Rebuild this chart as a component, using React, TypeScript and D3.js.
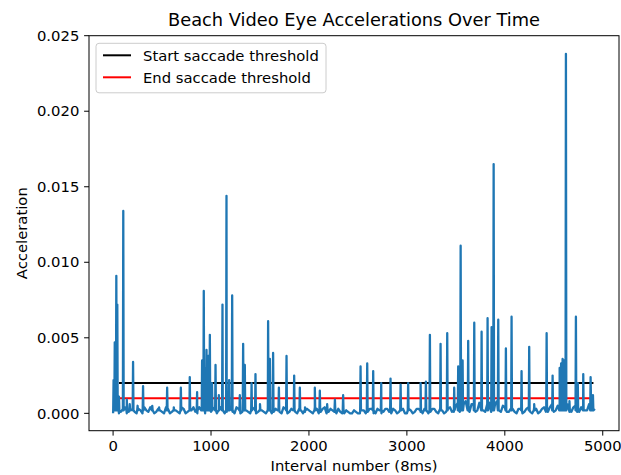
import React from "react";
import { scaleLinear, line } from "d3";

// baseline noise, sampled every 40 intervals (acceleration values)
const baselineStep = 40;
const baseline = [
  0, 0.0003, 0.0001, 0.0004, 0.0001, 0.0003, 0, 0.0002, 0.0004, 0.0001,
  0.0003, 0.0001, 0.0002, 0, 0.0003, 0.0001, 0.0002, 0, 0.0003, 0.0001,
  0.0002, 0.0001, 0.0004, 0.0002, 0.0005, 0.0001, 0.0004, 0.0002, 0.0003, 0.0001,
  0.0004, 0, 0.0003, 0.0001, 0.0002, 0, 0.0003, 0.0001, 0.0002, 0,
  0.0003, 0.0001, 0.0002, 0, 0.0003, 0.0001, 0.0002, 0, 0.0002, 0.0001,
  0.0002, 0, 0.0003, 0.0001, 0.0004, 0.0001, 0.0002, 0, 0.0001, 0,
  0.0001, 0, 0.0001, 0, 0.0002, 0.0001, 0.0003, 0, 0.0002, 0.0001,
  0.0003, 0, 0.0002, 0.0001, 0.0003, 0, 0.0002, 0.0001, 0.0003, 0,
  0.0002, 0.0001, 0.0003, 0, 0.0002, 0.0001, 0.0004, 0.0001, 0.0007, 0.0002,
  0.0008, 0.0001, 0.0006, 0.0002, 0.0009, 0.0001, 0.0007, 0.0002, 0.0008, 0.0001,
  0.0004, 0.0001, 0.0003, 0, 0.0003, 0.0001, 0.0004, 0, 0.0003, 0.0001,
  0.0004, 0.0001, 0.0006, 0.0002, 0.0007, 0.0003, 0.0006, 0.0001, 0.0005, 0.0001,
  0.0006, 0.0002, 0.0009, 0.0003,
];
// noise halfway between the baseline samples (interval 20, 60, 100, ...)
const baselineMid = [
  0.0002, 0, 0.0003, 0, 0.0002, 0.0001, 0.0003, 0, 0.0002, 0.0004,
  0, 0.0003, 0.0001, 0.0004, 0, 0.0003, 0.0001, 0.0004, 0, 0.0002,
  0.0004, 0, 0.0002, 0, 0.0002, 0.0003, 0, 0.0004, 0, 0.0003,
  0.0001, 0.0004, 0, 0.0003, 0.0001, 0.0004, 0, 0.0003, 0.0001, 0.0004,
  0, 0.0003, 0.0001, 0.0004, 0, 0.0003, 0.0001, 0.0003, 0, 0.0003,
  0.0001, 0.0004, 0, 0.0003, 0, 0.0003, 0.0001, 0.0003, 0, 0.0002,
  0, 0.0002, 0, 0.0002, 0, 0.0003, 0, 0.0003, 0, 0.0003,
  0.0001, 0.0003, 0, 0.0003, 0, 0.0003, 0, 0.0003, 0.0001, 0.0003,
  0, 0.0003, 0.0001, 0.0003, 0, 0.0003, 0.0001, 0.0005, 0.0001, 0.0006,
  0.0002, 0.0006, 0.0001, 0.0007, 0.0002, 0.0006, 0.0001, 0.0006, 0.0002, 0.0005,
  0.0001, 0.0003, 0.0001, 0.0003, 0, 0.0003, 0.0001, 0.0004, 0, 0.0003,
  0.0001, 0.0004, 0.0001, 0.0005, 0.0002, 0.0005, 0.0001, 0.0004, 0.0001, 0.0004,
  0.0002, 0.0006, 0.0002,
];

// saccade peaks: [interval index, acceleration]
const spikes: [number, number][] = [
  [5, 0.0022], [17, 0.0047], [33, 0.0091], [43, 0.0072], [60, 0.0011],
  [104, 0.0134], [140, 0.0009], [170, 0.0006], [204, 0.0034], [250, 0.0005],
  [306, 0.0018], [400, 0.0005], [470, 0.0004], [552, 0.0017], [620, 0.0004],
  [692, 0.0017], [783, 0.0024], [858, 0.0014], [909, 0.0035], [926, 0.0081],
  [940, 0.003], [954, 0.0042], [972, 0.0038], [988, 0.0052], [1010, 0.002],
  [1046, 0.0032], [1080, 0.0012], [1117, 0.0072], [1158, 0.0144], [1185, 0.0022],
  [1216, 0.0078], [1294, 0.0012], [1328, 0.0046], [1345, 0.0032], [1414, 0.002],
  [1454, 0.0026], [1500, 0.0006], [1583, 0.0061], [1601, 0.0036], [1634, 0.004],
  [1693, 0.0017], [1771, 0.0038], [1849, 0.0025], [1907, 0.0017], [1960, 0.0004],
  [2060, 0.0017], [2111, 0.0015], [2186, 0.0006], [2265, 0.0009], [2349, 0.0012],
  [2527, 0.0031], [2595, 0.0033], [2656, 0.0028], [2738, 0.002], [2833, 0.0023],
  [2936, 0.0019], [3013, 0.002], [3140, 0.002], [3194, 0.0021], [3235, 0.0052],
  [3344, 0.0046], [3412, 0.0053], [3483, 0.0017], [3524, 0.0031], [3549, 0.0111],
  [3569, 0.0035], [3626, 0.0048], [3688, 0.006], [3763, 0.0054], [3824, 0.0063],
  [3865, 0.0057], [3886, 0.0165], [3933, 0.0062], [4011, 0.0043], [4069, 0.0064],
  [4171, 0.0028], [4249, 0.0044], [4300, 0.0006], [4427, 0.0053], [4488, 0.0025],
  [4560, 0.003], [4575, 0.0033], [4590, 0.0036], [4605, 0.0035], [4624, 0.0238],
  [4660, 0.0008], [4726, 0.0064], [4745, 0.002], [4801, 0.0026], [4876, 0.0024],
  [4900, 0.0012],
];
const spikeFoot = 0.0002;

const startThreshold = 0.002;
const endThreshold = 0.001;
const thresholdRange = [60, 4905];

const xTicks = [0, 1000, 2000, 3000, 4000, 5000];
const yTicks = [0, 0.005, 0.01, 0.015, 0.02, 0.025];

const W = 621;
const H = 475;
const left = 89;
const right = 619;
const top = 35.7;
const bottom = 430.7;
const font = "DejaVu Sans, sans-serif";
const fs = 14.8;

export default function App() {
  const points: [number, number][] = [];
  baseline.forEach((v, i) => points.push([i * baselineStep, v]));
  baselineMid.forEach((v, i) => points.push([i * baselineStep + baselineStep / 2, v]));
  spikes.forEach(([i, v]) => {
    points.push([i - 4, spikeFoot]);
    points.push([i, v]);
    points.push([i + 4, spikeFoot]);
  });
  points.sort((a, b) => a[0] - b[0]);

  const xScale = scaleLinear().domain([-246, 5166]).range([left, right]);
  const yScale = scaleLinear().domain([-0.00115, 0.025]).range([bottom, top]);

  const lineGenerator = line<[number, number]>()
    .x((d) => xScale(d[0]))
    .y((d) => yScale(d[1]));

  const x0 = xScale(thresholdRange[0]);
  const x1 = xScale(thresholdRange[1]);

  return (
    <svg
      width={W}
      height={H}
      style={{ position: "absolute", left: 0, top: 0, background: "white" }}
      fontFamily={font}
    >
      <defs>
        <clipPath id="plot">
          <rect x={left} y={top} width={right - left} height={bottom - top} />
        </clipPath>
      </defs>

      <g clipPath="url(#plot)">
        <line x1={x0} x2={x1} y1={yScale(startThreshold)} y2={yScale(startThreshold)} stroke="black" strokeWidth={2} />
        <line x1={x0} x2={x1} y1={yScale(endThreshold)} y2={yScale(endThreshold)} stroke="red" strokeWidth={2} />
        <path d={lineGenerator(points) || ""} fill="none" stroke="#1f77b4" strokeWidth={2.3} strokeLinejoin="round" />
      </g>

      {/* spines */}
      <rect x={left} y={top} width={right - left} height={bottom - top} fill="none" stroke="black" strokeWidth={1} />

      {/* x axis */}
      {xTicks.map((t) => (
        <g key={t} transform={`translate(${xScale(t)},${bottom})`}>
          <line y2={4.9} stroke="black" strokeWidth={1} />
          <text y={20} textAnchor="middle" fontSize={fs} fill="black">
            {t}
          </text>
        </g>
      ))}
      <text x={(left + right) / 2} y={471} textAnchor="middle" fontSize={fs}>
        Interval number (8ms)
      </text>

      {/* y axis */}
      {yTicks.map((t) => (
        <g key={t} transform={`translate(${left},${yScale(t)})`}>
          <line x2={-4.9} stroke="black" strokeWidth={1} />
          <text x={-9.7} dy="0.35em" textAnchor="end" fontSize={fs}>
            {t.toFixed(3)}
          </text>
        </g>
      ))}
      <text
        transform={`translate(27,${(top + bottom) / 2}) rotate(-90)`}
        textAnchor="middle"
        fontSize={fs}
      >
        Acceleration
      </text>

      <text x={(left + right) / 2} y={26} textAnchor="middle" fontSize={17.8}>
        Beach Video Eye Accelerations Over Time
      </text>

      {/* legend */}
      <rect x={96} y={43.3} width={230} height={49.5} rx={3} fill="white" fillOpacity={0.8} stroke="#cccccc" strokeWidth={1} />
      <line x1={103} x2={131} y1={55.3} y2={55.3} stroke="black" strokeWidth={2} />
      <text x={143} y={60.5} fontSize={fs}>Start saccade threshold</text>
      <line x1={103} x2={131} y1={77.3} y2={77.3} stroke="red" strokeWidth={2} />
      <text x={143} y={82.5} fontSize={fs}>End saccade threshold</text>
    </svg>
  );
}
